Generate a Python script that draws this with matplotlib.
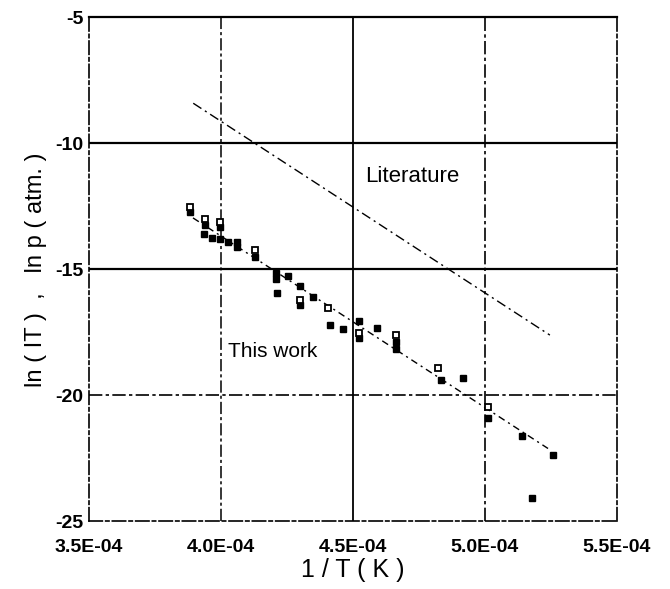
import matplotlib
matplotlib.use("Agg")
import matplotlib.pyplot as plt
import numpy as np

plt.rcParams['font.family'] = ['Liberation Sans', 'DejaVu Sans']
plt.rcParams['axes.unicode_minus'] = False

# ---- data (x in units of 1e-4 1/K) ----
filled_x = [3.884, 3.941, 3.937, 3.968, 3.997, 3.997, 4.029, 4.061, 4.061, 4.130,
            4.209, 4.209, 4.256, 4.300, 4.212, 4.300, 4.351, 4.414, 4.462, 4.525,
            4.525, 4.591, 4.664, 4.664, 4.833, 4.917, 5.014, 5.140, 5.258, 5.180]
filled_y = [-12.73, -13.24, -13.60, -13.77, -13.32, -13.80, -13.90, -13.92, -14.12, -14.51,
            -15.13, -15.38, -15.27, -15.66, -15.95, -16.42, -16.09, -17.21, -17.38, -17.04,
            -17.73, -17.34, -17.89, -18.17, -19.39, -19.33, -20.91, -21.62, -22.37, -24.09]
open_x = [3.884, 3.941, 3.997, 4.130, 4.300, 4.408, 4.525, 4.664, 4.824, 5.014]
open_y = [-12.53, -13.00, -13.12, -14.23, -16.22, -16.55, -17.53, -17.61, -18.93, -20.45]

fit_x = [3.895, 5.240]
fit_y = [-12.96, -22.11]
lit_x = [3.896, 5.247]
lit_y = [-8.41, -17.61]

xticks = [3.5, 4.0, 4.5, 5.0, 5.5]
xticklabels = ['3.5E-04', '4.0E-04', '4.5E-04', '5.0E-04', '5.5E-04']
yticks = [-25, -20, -15, -10, -5]

fig = plt.figure(figsize=(6.70, 5.89), dpi=100)
ax = fig.add_axes([0.1324, 0.1149, 0.9204 - 0.1324, 0.9706 - 0.1149])
ax.set_xlim(3.5, 5.5)
ax.set_ylim(-25, -5)

# grid lines
dashdot = (0, (8, 2, 2, 2))
for yv, ls, lw in [(-10, '-', 1.6), (-15, '-', 1.6), (-20, dashdot, 1.2)]:
    ax.axhline(yv, color='black', ls=ls, lw=lw, zorder=1)
for xv, ls, lw in [(4.0, dashdot, 1.1), (4.5, '-', 1.3), (5.0, dashdot, 1.2)]:
    ax.axvline(xv, color='black', ls=ls, lw=lw, zorder=1)

for s in ['left', 'right', 'bottom']:
    ax.spines[s].set_linestyle(dashdot)
    ax.spines[s].set_linewidth(1.2)
ax.spines['top'].set_linewidth(1.6)

# lines
ax.plot(lit_x, lit_y, color='black', lw=1.0, ls=(0, (7, 3, 1.5, 3)), zorder=2)
ax.plot(fit_x, fit_y, color='black', lw=1.0, ls=(0, (5, 3, 1.5, 3)), zorder=2)

# markers
ax.plot(filled_x, filled_y, ls='none', marker='s', ms=5, color='black', zorder=3)
ax.plot(open_x, open_y, ls='none', marker='s', ms=5, mfc='white', mec='black',
        mew=1.3, zorder=3)

ax.text(4.725, -11.30, 'Literature', fontsize=16, ha='center', va='center')
ax.text(4.198, -18.28, 'This work', fontsize=15, ha='center', va='center')

ax.set_xticks(xticks)
ax.set_xticklabels(xticklabels)
ax.set_yticks(yticks)
ax.tick_params(length=0, labelsize=14)
ax.tick_params(axis='x', pad=13)
ax.tick_params(axis='y', pad=4)
for lab in ax.get_xticklabels() + ax.get_yticklabels():
    lab.set_fontweight('bold')

ax.set_xlabel('1 / T ( K )', fontsize=18, labelpad=1)
ax.set_ylabel('ln ( IT )  ,   ln p ( atm. )', fontsize=17, labelpad=6)

fig.savefig('out.png', dpi=100)
